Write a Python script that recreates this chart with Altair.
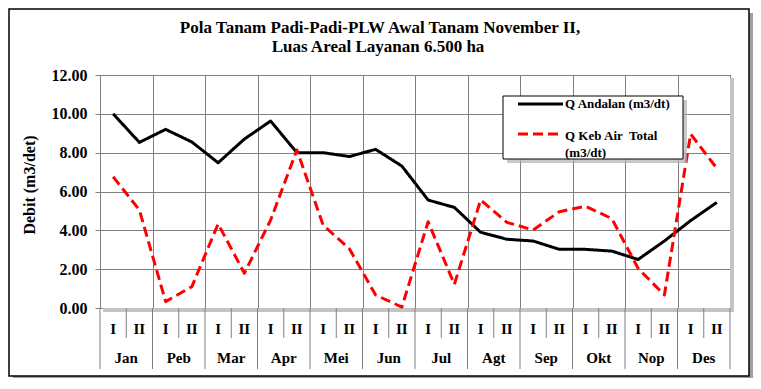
import altair as alt
import pandas as pd

months = ["Jan", "Peb", "Mar", "Apr", "Mei", "Jun", "Jul", "Agt", "Sep", "Okt", "Nop", "Des"]
halves = ["I", "II"]
q_andalan = [10.00, 8.53, 9.20, 8.55, 7.48, 8.70, 9.63, 8.00, 8.00, 7.80, 8.17, 7.31,
             5.56, 5.18, 3.90, 3.54, 3.45, 3.02, 3.02, 2.93, 2.50, 3.45, 4.50, 5.44]
q_keb = [6.76, 5.05, 0.33, 1.10, 4.33, 1.79, 4.53, 8.14, 4.27, 3.05, 0.67, 0.05,
         4.44, 1.22, 5.56, 4.41, 4.02, 4.96, 5.24, 4.60, 2.04, 0.67, 8.96, 7.19]
y_ticks = [0, 2, 4, 6, 8, 10, 12]
series_names = ["Q Andalan (m3/dt)", "Q Keb Air  Total (m3/dt)"]
title_lines = ["Pola Tanam Padi-Padi-PLW Awal Tanam November II,", "Luas Areal Layanan 6.500 ha"]
y_title = "Debit (m3/det)"
legend_lines = ["Q Andalan (m3/dt)", "Q Keb Air\u00a0 Total", "(m3/dt)"]

FONT = "Liberation Serif"
W, H = 630, 233
GRID = "#808080"

rows = []
for i in range(24):
    rows.append({"pos": i + 0.5, "series": series_names[0], "value": q_andalan[i]})
    rows.append({"pos": i + 0.5, "series": series_names[1], "value": q_keb[i]})
df = pd.DataFrame(rows)

half_df = pd.DataFrame({"pos": [i + 0.5 for i in range(24)],
                        "label": [halves[i % 2] for i in range(24)]})
month_df = pd.DataFrame({"pos": [2 * m + 1 for m in range(12)], "label": months})
short_sep = pd.DataFrame({"b": [b for b in range(25) if b % 2 == 1]})
long_sep = pd.DataFrame({"b": [b for b in range(25) if b % 2 == 0]})

xscale = alt.Scale(domain=[0, 24], nice=False, zero=False)
yscale = alt.Scale(domain=[0, 12], nice=False)

xaxis = alt.Axis(values=list(range(25)), grid=True, gridColor=GRID, gridOpacity=1,
                 labels=False, ticks=False, domain=False, title=None)
yaxis = alt.Axis(values=y_ticks, format=".2f", grid=True, gridColor=GRID, gridOpacity=1,
                 tickColor=GRID, tickSize=5, domainColor=GRID, labelFont=FONT,
                 labelFontWeight="bold", labelFontSize=16, labelColor="black",
                 labelPadding=8, title=None)

one = pd.DataFrame({"k": [0]})

# frame + shadow (strips only, so the axis grid stays visible)
frame_sh_r = alt.Chart(one).mark_rect(fill="#a0a0a0").encode(
    x=alt.value(649), x2=alt.value(653), y=alt.value(-62), y2=alt.value(303))
frame_sh_b = alt.Chart(one).mark_rect(fill="#a0a0a0").encode(
    x=alt.value(-87), x2=alt.value(653), y=alt.value(301), y2=alt.value(303))
frame = alt.Chart(one).mark_rect(fillOpacity=0, stroke="black", strokeWidth=1.5).encode(
    x=alt.value(-91), x2=alt.value(649), y=alt.value(-66), y2=alt.value(301))

plot_shadow_b = alt.Chart(one).mark_rect(fill="#c4c4c4").encode(
    x=alt.value(3), x2=alt.value(634), y=alt.value(H), y2=alt.value(H + 4))
plot_shadow_r = alt.Chart(one).mark_rect(fill="#c4c4c4").encode(
    x=alt.value(W), x2=alt.value(W + 4), y=alt.value(3), y2=alt.value(H + 4))

lines = alt.Chart(df).mark_line(strokeWidth=3, strokeJoin="round").encode(
    x=alt.X("pos:Q", scale=xscale, axis=xaxis),
    y=alt.Y("value:Q", scale=yscale, axis=yaxis),
    color=alt.Color("series:N", scale=alt.Scale(domain=series_names, range=["black", "#ff0000"]), legend=None),
    strokeDash=alt.StrokeDash("series:N", scale=alt.Scale(domain=series_names, range=[[1, 0], [10, 5]]), legend=None),
)

seps_s = alt.Chart(short_sep).mark_rule(color=GRID, strokeWidth=1).encode(
    x=alt.X("b:Q", scale=xscale), y=alt.value(H), y2=alt.value(H + 30))
seps_l = alt.Chart(long_sep).mark_rule(color=GRID, strokeWidth=1).encode(
    x=alt.X("b:Q", scale=xscale), y=alt.value(H), y2=alt.value(H + 61))

half_txt = alt.Chart(half_df).mark_text(font=FONT, fontWeight="bold", fontSize=15,
                                        baseline="middle", align="center").encode(
    x=alt.X("pos:Q", scale=xscale), y=alt.value(H + 21), text="label:N")
month_txt = alt.Chart(month_df).mark_text(font=FONT, fontWeight="bold", fontSize=15,
                                          baseline="middle", align="center").encode(
    x=alt.X("pos:Q", scale=xscale), y=alt.value(H + 50), text="label:N")

t1 = alt.Chart(pd.DataFrame({"t": [title_lines[0]]})).mark_text(
    font=FONT, fontWeight="bold", fontSize=17, align="center", baseline="middle").encode(
    x=alt.value(280), y=alt.value(-47), text="t:N")
t2 = alt.Chart(pd.DataFrame({"t": [title_lines[1]]})).mark_text(
    font=FONT, fontWeight="bold", fontSize=17, align="center", baseline="middle").encode(
    x=alt.value(278), y=alt.value(-28), text="t:N")
ytitle = alt.Chart(pd.DataFrame({"t": [y_title]})).mark_text(
    font=FONT, fontWeight="bold", fontSize=16, align="center", baseline="middle", angle=270).encode(
    x=alt.value(-70), y=alt.value(110), text="t:N")

# legend
leg_shadow = alt.Chart(one).mark_rect(fill="#b0b0b0", opacity=0.7).encode(
    x=alt.value(407), x2=alt.value(587), y=alt.value(25), y2=alt.value(88))
leg_box = alt.Chart(one).mark_rect(fill="white", stroke="black", strokeWidth=1).encode(
    x=alt.value(403), x2=alt.value(583), y=alt.value(21), y2=alt.value(84))
leg_l1 = alt.Chart(one).mark_rule(color="black", strokeWidth=3).encode(
    x=alt.value(418), x2=alt.value(463), y=alt.value(29))
leg_l2 = alt.Chart(one).mark_rule(color="#ff0000", strokeWidth=3, strokeDash=[10, 5]).encode(
    x=alt.value(418), x2=alt.value(463), y=alt.value(59))
leg_t1 = alt.Chart(pd.DataFrame({"t": [legend_lines[0]]})).mark_text(
    font=FONT, fontWeight="bold", fontSize=13, align="left", baseline="middle").encode(
    x=alt.value(465), y=alt.value(29), text="t:N")
leg_t2 = alt.Chart(pd.DataFrame({"t": [legend_lines[1]]})).mark_text(
    font=FONT, fontWeight="bold", fontSize=13, align="left", baseline="middle").encode(
    x=alt.value(465), y=alt.value(61), text="t:N")
leg_t3 = alt.Chart(pd.DataFrame({"t": [legend_lines[2]]})).mark_text(
    font=FONT, fontWeight="bold", fontSize=13, align="left", baseline="middle").encode(
    x=alt.value(465), y=alt.value(78), text="t:N")

chart = alt.layer(
    frame_sh_r, frame_sh_b, frame, plot_shadow_b, plot_shadow_r,
    lines, seps_s, seps_l, half_txt, month_txt, t1, t2, ytitle,
    leg_shadow, leg_box, leg_l1, leg_l2, leg_t1, leg_t2, leg_t3,
).properties(
    width=W, height=H,
    autosize=alt.AutoSizeParams(type="none"),
    padding={"left": 92, "top": 67, "right": 23, "bottom": 70},
).configure_view(stroke="black", strokeWidth=1)

chart.save("out.html", embed_options={"renderer": "svg", "actions": False})
